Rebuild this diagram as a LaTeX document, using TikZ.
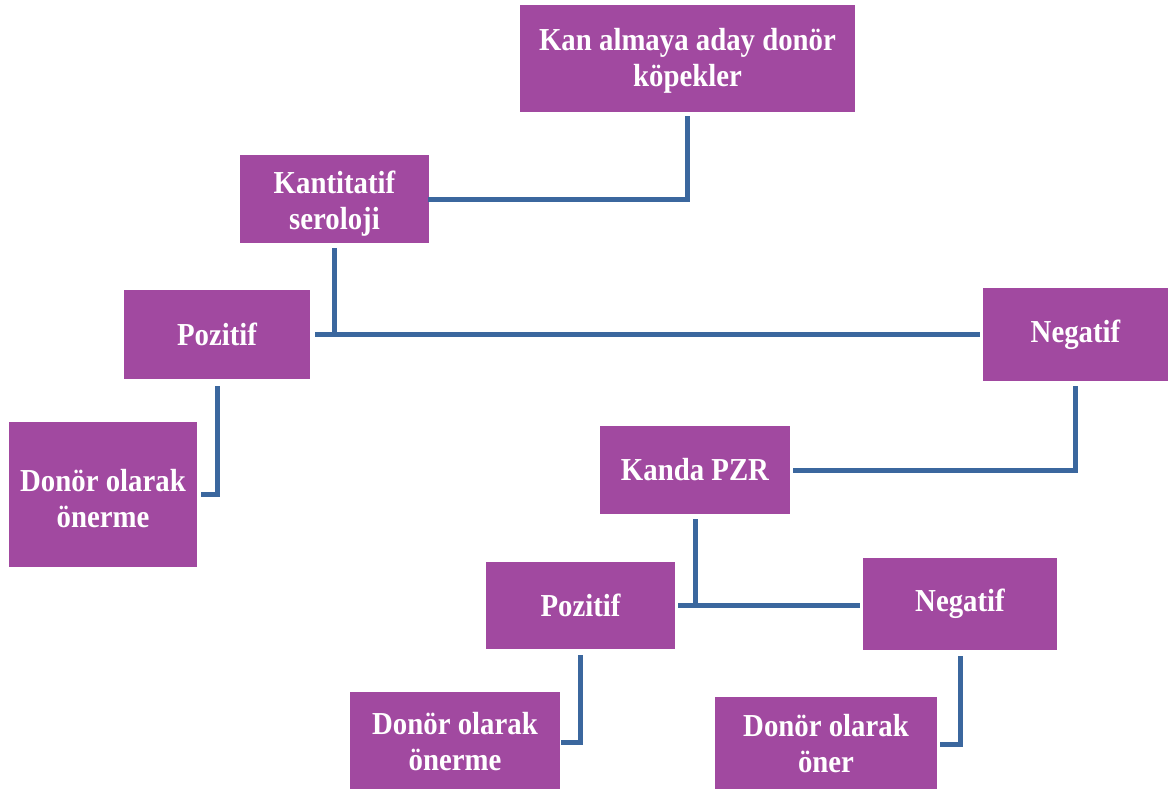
\documentclass[tikz,border=0pt]{standalone}
\usepackage{fontspec}
\setmainfont{Liberation Serif}[FakeStretch=0.9]
\definecolor{boxpurple}{RGB}{161,73,160}
\definecolor{linkblue}{RGB}{59,103,158}
% set a block of centred lines a little lower inside its box
\newcommand\lowered[2]{\raisebox{-#1}[\height][\depth]{\begin{tabular}{@{}c@{}}#2\end{tabular}}}
\tikzset{
  box/.style={fill=boxpurple, text=white, align=center, inner sep=0pt,
    font=\bfseries\fontsize{32}{36}\selectfont},
  link/.style={draw=linkblue, line width=5pt, line cap=rect}
}
\begin{document}
\begin{tikzpicture}[x=1pt, y=-1pt]
\useasboundingbox (0,0) rectangle (1170,789);
% boxes
\node[box, minimum width=335pt, minimum height=107pt] (top) at (687.5,58.5) {\lowered{3pt}{Kan almaya aday donör\\köpekler}};
\node[box, minimum width=189pt, minimum height=88pt] (kant) at (334.5,199) {\lowered{5pt}{Kantitatif\\seroloji}};
\node[box, minimum width=186pt, minimum height=89pt] (pozL) at (217,334.5) {Pozitif};
\node[box, minimum width=185pt, minimum height=93pt] (negR) at (1075.5,334.5) {Negatif};
\node[box, minimum width=188pt, minimum height=145pt] (donL) at (103,494.5) {\lowered{8pt}{Donör olarak\\önerme}};
\node[box, minimum width=190pt, minimum height=88pt] (kanda) at (695,470) {Kanda PZR};
\node[box, minimum width=189pt, minimum height=87pt] (pozB) at (580.5,605.5) {Pozitif};
\node[box, minimum width=194pt, minimum height=92pt] (negB) at (960,604) {Negatif};
\node[box, minimum width=210pt, minimum height=100pt] (donB1) at (455,742) {Donör olarak\\önerme};
\node[box, minimum width=222pt, minimum height=94pt] (donB2) at (826,744) {Donör olarak\\öner};
% connectors
\draw[link] ([yshift=-6pt]top.south) |- ([xshift=1pt]kant.east);
\draw[link] ([yshift=-7pt]kant.south) -- (kant.south |- pozL.east);
\draw[link] ([xshift=7pt]pozL.east) -- ([xshift=-5pt]negR.west);
\draw[link] ([yshift=-9pt]pozL.south) |- ([xshift=6pt]donL.east);
\draw[link] ([yshift=-7pt]negR.south) |- ([xshift=5pt]kanda.east);
\draw[link] ([yshift=-7pt]kanda.south) -- (kanda.south |- pozB.east);
\draw[link] ([xshift=5pt]pozB.east) -- ([xshift=-5pt]pozB.east -| negB.west);
\draw[link] ([yshift=-8pt]pozB.south) |- ([xshift=3pt]donB1.east);
\draw[link] ([yshift=-8pt]negB.south) |- ([xshift=5pt]donB2.east);
\end{tikzpicture}
\end{document}
